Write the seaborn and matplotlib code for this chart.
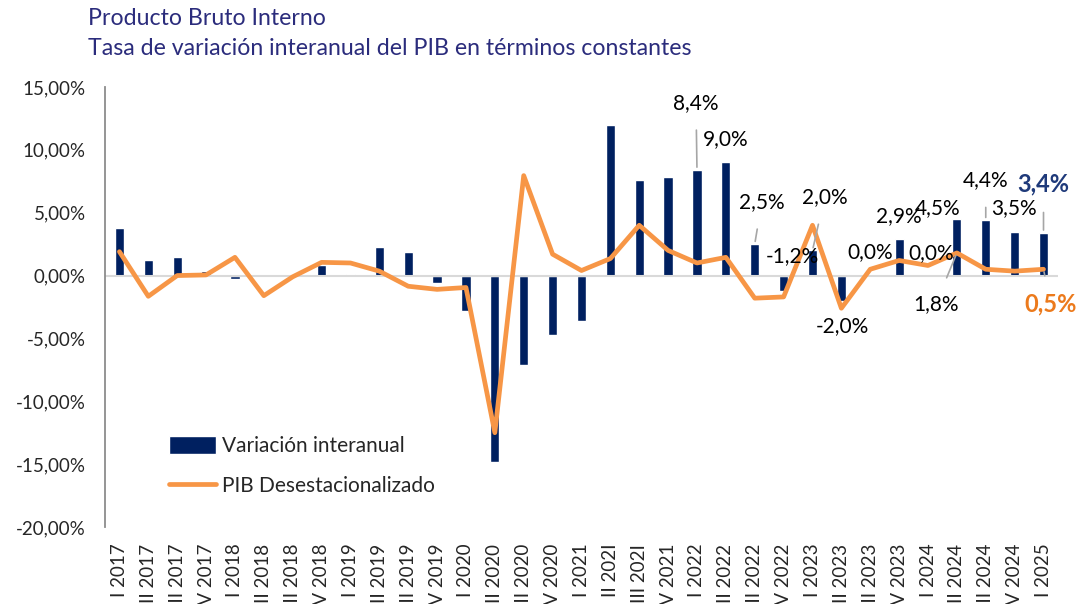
import matplotlib
matplotlib.use("Agg")
import matplotlib.pyplot as plt
from matplotlib.patches import Patch
from matplotlib.lines import Line2D
from matplotlib.ticker import FuncFormatter
import numpy as np
import pandas as pd
import seaborn as sns

sns.set_style("white")
plt.rcParams["font.family"] = ["Lato", "DejaVu Sans"]

# quarters (labels kept as in the source, incl. the "202I" typo)
trimestres = [
    "I 2017", "II 2017", "III 2017", "IV 2017",
    "I 2018", "II 2018", "III 2018", "IV 2018",
    "I 2019", "II 2019", "III 2019", "IV 2019",
    "I 2020", "II 2020", "III 2020", "IV 2020",
    "I 2021", "II 202I", "III 202I", "IV 2021",
    "I 2022", "II 2022", "III 2022", "IV 2022",
    "I 2023", "II 2023", "III 2023", "IV 2023",
    "I 2024", "II 2024", "III 2024", "IV 2024",
    "I 2025",
]
# variacion interanual (%)
variacion = [
    3.8, 1.25, 1.5, 0.4,
    -0.25, 0.0, 0.0, 0.8,
    0.1, 2.3, 1.9, -0.6,
    -2.8, -14.8, -7.1, -4.7,
    -3.6, 12.0, 7.6, 7.8,
    8.4, 9.0, 2.5, -1.2,
    2.0, -2.0, 0.0, 2.9,
    0.0, 4.5, 4.4, 3.5,
    3.4,
]
# PIB desestacionalizado (%)
desest = [
    1.9, -1.65, 0.0, 0.05,
    1.45, -1.6, -0.1, 1.05,
    1.0, 0.35, -0.85, -1.1,
    -0.95, -12.5, 7.95, 1.7,
    0.4, 1.35, 4.0, 2.0,
    1.0, 1.45, -1.8, -1.7,
    4.0, -2.6, 0.5, 1.2,
    0.8, 1.8, 0.5, 0.35,
    0.5,
]

NAVY = "#002060"
ORANGE = "#F79646"
TITLE = "#2B2C7C"

df = pd.DataFrame({"trim": trimestres, "var": variacion, "des": desest,
                   "pos": np.arange(len(trimestres))})

fig = plt.figure(figsize=(10.78, 6.04), dpi=100)
ax = fig.add_axes([0.0974, 0.1275, 0.8840, 0.7285])

sns.barplot(data=df, x="trim", y="var", color=NAVY, saturation=1,
            width=0.32, ax=ax)
sns.lineplot(data=df, x="pos", y="des", color=ORANGE, lw=3.4, sort=False,
             ax=ax)

ax.axhline(0, color="#d9d9d9", lw=1.5, zorder=1)
ax.set_ylim(-20, 15)
ax.set_xlim(-0.5, len(trimestres) - 0.5)
ax.set_yticks(np.arange(-20, 16, 5))
ax.yaxis.set_major_formatter(
    FuncFormatter(lambda v, p: f"{v:.2f}".replace(".", ",") + "%"))
ax.set_xlabel("")
ax.set_ylabel("")
for s in ["top", "right", "bottom"]:
    ax.spines[s].set_visible(False)
ax.spines["left"].set_color("#8c8c8c")
ax.spines["left"].set_linewidth(1.3)
ax.tick_params(axis="y", length=6, color="#8c8c8c", width=1.3,
               labelsize=13.5, pad=8)
ax.tick_params(axis="x", length=0, labelsize=13.5, pad=12)
plt.setp(ax.get_xticklabels(), rotation=90, va="top", ha="center")

# data labels: (index, series, text, dx, dy, leader, style)
ann = [
    (20, "var", "8,4%", -1, 67, True, None),
    (21, "var", "9,0%", 0, 23, False, None),
    (22, "var", "2,5%", 7, 42, True, None),
    (23, "var", "-1,2%", 9, 35, False, None),
    (24, "var", "2,0%", 12, 53, True, None),
    (25, "var", "-2,0%", 1, -25, False, None),
    (26, "var", "0,0%", 0, 23, False, None),
    (27, "var", "2,9%", 0, 23, False, None),
    (28, "var", "0,0%", 3, 22, False, None),
    (29, "var", "4,5%", -19, 11, False, None),
    (30, "var", "4,4%", 0, 40, True, None),
    (31, "var", "3,5%", -1, 23, False, None),
    (32, "var", "3,4%", 0, 49, True, "navy"),
    (29, "des", "1,8%", -21, -51, True, None),
    (32, "des", "0,5%", 7, -35, True, "orange"),
]
for i, ser, txt, dx, dy, lead, style in ann:
    yv = df[ser].iloc[i]
    kw = dict(color="black", fontsize=15)
    if style == "navy":
        kw = dict(color="#1F3A7A", fontsize=17, fontweight="bold")
    elif style == "orange":
        kw = dict(color="#EC7A1C", fontsize=17, fontweight="bold")
    ap = dict(arrowstyle="-", color="#a6a6a6", lw=1.2,
              shrinkA=10, shrinkB=2) if lead else None
    ax.annotate(txt, xy=(i, yv), xytext=(dx, dy), textcoords="offset pixels",
                ha="center", va="center", arrowprops=ap, zorder=5, **kw)

handles = [Patch(facecolor=NAVY, label="Variación interanual"),
           Line2D([0], [0], color=ORANGE, lw=3.4, label="PIB Desestacionalizado")]
ax.legend(handles=handles, loc="upper left", bbox_to_anchor=(0.047, 0.25),
          frameon=False, fontsize=15, handlelength=2.3, handleheight=0.95,
          labelspacing=0.95, handletextpad=0.25)

fig.text(0.082, 0.97, "Producto Bruto Interno", color=TITLE, fontsize=16.7,
         va="center")
fig.text(0.082, 0.92, "Tasa de variación interanual del PIB en términos constantes",
         color=TITLE, fontsize=16.7, va="center")

fig.savefig("out.png", dpi=100)
